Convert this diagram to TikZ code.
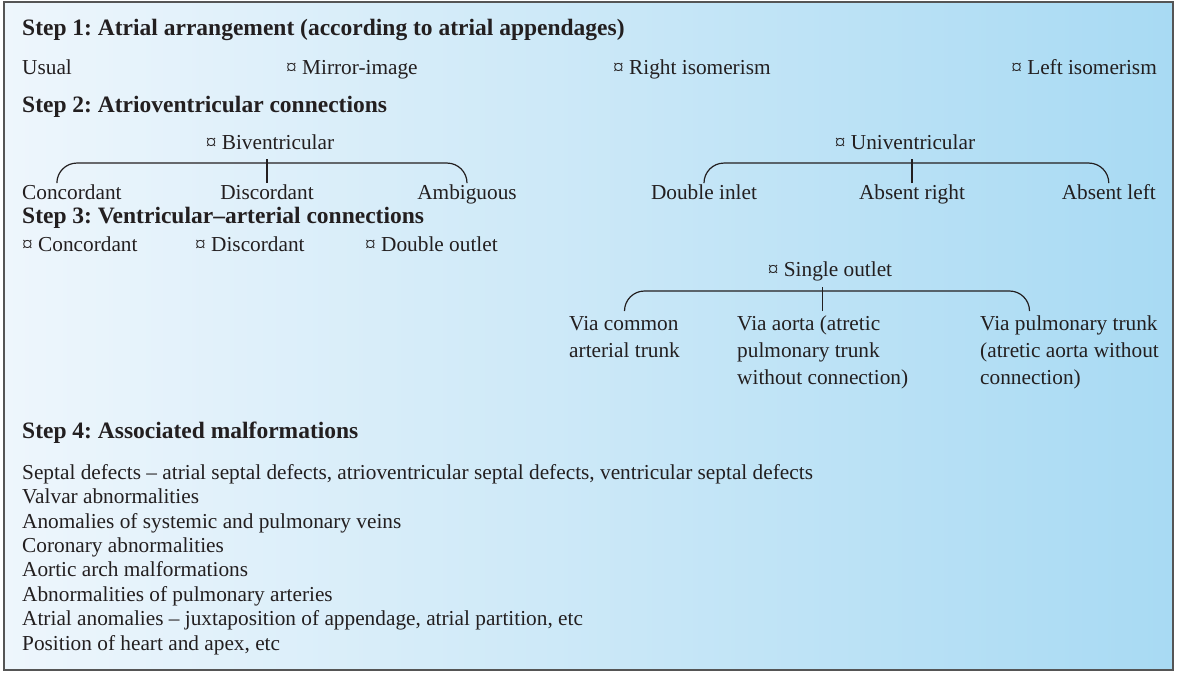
\documentclass[tikz,border=0pt]{standalone}
\usepackage{fontspec}
\setmainfont{Liberation Serif}
\usetikzlibrary{positioning}
\definecolor{boxleft}{RGB}{238,246,252}
\definecolor{boxright}{RGB}{168,218,243}
\definecolor{framegray}{RGB}{85,85,85}
\definecolor{ink}{RGB}{35,31,32}
\frenchspacing

\begin{document}
\begin{tikzpicture}[x=1pt,y=-1pt,inner sep=0pt]
\tikzstyle{title}=[anchor=west, text=ink, text height=16pt, text depth=5pt, font=\fontsize{23.5}{28}\selectfont\bfseries]
\tikzstyle{item}=[anchor=west, text=ink, text height=15pt, text depth=4.5pt, font=\fontsize{21.3}{26}\selectfont]
\tikzstyle{multi}=[anchor=north west, align=left, text=ink, font=\fontsize{21.3}{27}\selectfont]
\tikzstyle{brace}=[ink, line width=1.2pt, rounded corners=20pt]
\tikzstyle{tick}=[ink, line width=1.2pt]
\useasboundingbox (0,0) rectangle (1178,672);
\fill[left color=boxleft, right color=boxright] (4,2) rectangle (1173,670);
\draw[framegray, line width=1.5pt] (4,2) rectangle (1173,670);
% step 1
\node[title] (s1) at (22,30) {Step 1: Atrial arrangement (according to atrial appendages)};
\node[item] (usual) at (22,69) {Usual};
\node[item] (mirror) at (286,69) {¤ Mirror-image};
\node[item] (rightiso) at (613,69) {¤ Right isomerism};
\node[item,anchor=east] (leftiso) at (1157,69) {¤ Left isomerism};
% step 2
\node[title] (s2) at (22,107) {Step 2: Atrioventricular connections};
\node[item,anchor=center] (biv) at (270,144) {¤ Biventricular};
\node[item] (conc) at (22,194) {Concordant};
\node[item,anchor=center] (disc) at (267,194) {Discordant};
\node[item,anchor=center] (ambig) at (467,194) {Ambiguous};
\node[item,anchor=center] (univ) at (905,144) {¤ Univentricular};
\node[item,anchor=center] (dinlet) at (704,194) {Double inlet};
\node[item,anchor=center] (absright) at (912,194) {Absent right};
\node[item,anchor=east] (absleft) at (1156,194) {Absent left};
\draw[brace] ([xshift=-15pt,yshift=1pt]conc.north) -- ++(0,-20) -| ([yshift=1pt]ambig.north);
\draw[tick] ([yshift=1pt]disc.north) -- ++(0,-24);
\draw[brace] ([yshift=1pt]dinlet.north) -- ++(0,-20) -| ([yshift=1pt]absleft.north);
\draw[tick] ([yshift=1pt]absright.north) -- ++(0,-24);
% step 3
\node[title] (s3) at (22,218) {Step 3: Ventricular–arterial connections};
\node[item] (vaconc) at (22,246) {¤ Concordant};
\node[item] (vadisc) at (195,246) {¤ Discordant};
\node[item] (vadbl) at (365,246) {¤ Double outlet};
\node[item,anchor=center] (single) at (830,271) {¤ Single outlet};
\node[multi] (viacom) at (569,316) {Via common\\arterial trunk};
\node[multi] (viaao) at (737,316) {Via aorta (atretic\\pulmonary trunk\\without connection)};
\node[multi] (viapt) at (980,316) {Via pulmonary trunk\\(atretic aorta without\\connection)};
\draw[brace] ([yshift=5pt]viacom.north) -- ++(0,-20) -| ([xshift=-40pt,yshift=5pt]viapt.north);
\draw[tick] ([yshift=5pt]viaao.north) -- ++(0,-24);
% step 4
\node[title] (s4) at (22,433) {Step 4: Associated malformations};
\node[multi, font=\fontsize{21.3}{24.4}\selectfont] (malf) at (22,464) {Septal defects – atrial septal defects, atrioventricular septal defects, ventricular septal defects\\
Valvar abnormalities\\
Anomalies of systemic and pulmonary veins\\
Coronary abnormalities\\
Aortic arch malformations\\
Abnormalities of pulmonary arteries\\
Atrial anomalies – juxtaposition of appendage, atrial partition, etc\\
Position of heart and apex, etc};
\end{tikzpicture}
\end{document}
